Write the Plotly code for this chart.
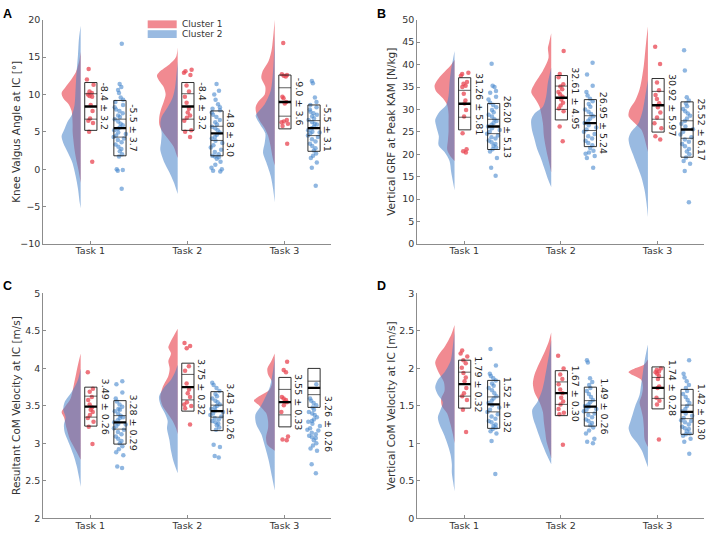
import plotly.graph_objects as go
from plotly.subplots import make_subplots

TASKS = ["Task 1", "Task 2", "Task 3"]
CLUSTERS = ["Cluster 1", "Cluster 2"]

# ---------------- A: knee valgus angle ----------------
A_TITLE = "Knee Valgus Angle at IC [°]"
A_MEAN_1 = [8.4, 8.4, 9.0]
A_SD_1 = [3.2, 3.2, 3.6]
A_CI_1 = [1.7, 1.7, 1.9]
A_MEAN_2 = [5.5, 4.8, 5.5]
A_SD_2 = [3.7, 3.0, 3.1]
A_CI_2 = [1.2, 0.95, 1.0]
A_LABEL_1 = ["-8.4 ± 3.2", "-8.4 ± 3.2", "-9.0 ± 3.6"]
A_LABEL_2 = ["-5.5 ± 3.7", "-4.8 ± 3.0", "-5.5 ± 3.1"]
A_DOTS_1 = [
    [13.4, 12.0, 11.3, 10.4, 10.2, 10.0, 9.8, 9.7, 8.6, 7.8, 6.8, 6.5, 6.2, 5.0, 1.0],
    [13.3, 13.1, 12.9, 12.6, 11.2, 10.4, 9.7, 8.9, 8.1, 7.6, 7.2, 6.9, 6.5, 5.2, 5.0, 4.3],
    [16.9, 12.7, 12.6, 12.5, 12.4, 9.7, 9.5, 9.0, 8.8, 6.6, 6.4, 6.3, 6.1, 5.8, 3.4],
]
A_DOTS_2 = [
    [16.8, 11.4, 11.0, 10.6, 10.2, 9.6, 9.3, 9.0, 8.6, 8.3, 8.0, 7.8, 7.5, 7.2, 7.0, 6.7, 6.4, 6.1, 5.9, 5.6,
     5.4, 5.2, 4.9, 4.7, 4.5, 4.3, 4.1, 3.9, 3.6, 3.3, 3.0, 2.7, 2.4, 2.0, 1.7, 0.0, -0.2, -0.1, -2.6],
    [11.4, 10.5, 10.0, 9.3, 8.7, 8.3, 8.1, 7.9, 7.6, 7.3, 7.0, 6.6, 6.3, 6.0, 5.7, 5.5, 5.2, 4.9, 4.6, 4.3,
     4.1, 3.8, 3.5, 3.2, 2.9, 2.6, 2.3, 2.0, 1.8, 1.6, 1.4, 1.0, 0.6, 0.2, 0.0, -0.2, -0.3, 1.7],
    [11.8, 11.5, 9.6, 9.0, 8.6, 8.3, 8.0, 7.7, 7.5, 7.3, 7.1, 6.8, 6.6, 6.3, 6.0, 5.7, 5.5, 5.2, 5.0, 4.8,
     4.5, 4.3, 4.0, 3.7, 3.4, 3.1, 2.8, 2.5, 2.1, 1.8, 1.5, 0.9, 0.2, -2.2, 4.9, 6.1],
]
A_DENS_Y_1 = [
    [15.7, 14.5, 13, 12, 11, 10.2, 9.5, 8.7, 7.8, 7, 6, 5, 4, 2.5, 1, 0, -1, -1.8],
    [16.3, 15, 14, 13, 12.5, 11.8, 11, 10, 9, 8, 7, 6, 5, 4, 3, 2, 1.5],
    [20, 18, 16, 14.5, 13, 12.2, 11, 10, 9, 8.3, 7.5, 6.5, 5.5, 4.5, 3, 1.5, 0.5],
]
A_DENS_W_1 = [
    [0, 4, 14, 28, 45, 57, 52, 36, 27, 25, 24, 24, 22, 18, 12, 7, 3, 0],
    [0, 5, 25, 55, 62, 55, 42, 36, 42, 50, 55, 55, 45, 28, 12, 4, 0],
    [0, 4, 9, 18, 37, 40, 28, 30, 50, 57, 55, 45, 30, 20, 12, 6, 0],
]
A_DENS_Y_2 = [
    [19.2, 17.5, 15.3, 13.1, 10.9, 8.7, 7.4, 6.3, 5.2, 4.4, 3.5, 2.2, 0.9, -0.9, -2.6, -4.4, -5.2],
    [14.4, 12.5, 10.9, 9.6, 8.3, 7, 6.1, 4.8, 3.5, 2.6, 0.9, -0.4, -1.7, -3.3],
    [18.3, 15.5, 13.1, 10.5, 8.7, 7.9, 7.2, 6.1, 4.8, 3.5, 2.2, 0.9, -0.9, -2.6, -4.4],
]
A_DENS_W_2 = [
    [0, 5, 8, 12, 15, 18, 25, 40, 50, 57, 52, 38, 25, 15, 8, 3, 0],
    [0, 4, 8, 15, 30, 48, 52, 48, 50, 52, 40, 25, 12, 0],
    [0, 2, 5, 12, 30, 45, 57, 45, 28, 30, 35, 25, 12, 5, 0],
]

# ---------------- B: vertical GRF ----------------
B_TITLE = "Vertical GRF at Peak KAM [N/kg]"
B_MEAN_1 = [31.26, 32.61, 30.92]
B_SD_1 = [5.81, 4.95, 5.97]
B_CI_1 = [3.0, 2.6, 3.1]
B_MEAN_2 = [26.20, 26.95, 25.52]
B_SD_2 = [5.13, 5.24, 6.17]
B_CI_2 = [1.6, 1.65, 1.95]
B_LABEL_1 = ["31.26 ± 5.81", "32.61 ± 4.95", "30.92 ± 5.97"]
B_LABEL_2 = ["26.20 ± 5.13", "26.95 ± 5.24", "25.52 ± 6.17"]
B_DOTS_1 = [
    [38.2, 37.9, 37.5, 36.1, 35.7, 35.3, 35.0, 33.5, 32.0, 31.3, 29.9, 28.4, 24.7, 21.1, 20.7, 20.4],
    [43.0, 37.9, 37.2, 35.6, 35.1, 34.5, 33.9, 33.4, 32.8, 32.2, 31.5, 30.9, 30.2, 29.6, 26.2, 22.9],
    [44.0, 40.1, 36.0, 34.3, 33.2, 32.3, 31.4, 30.5, 29.3, 28.2, 26.9, 25.8, 24.0, 23.3],
]
B_DOTS_2 = [
    [40.2, 35.3, 35.0, 34.1, 33.7, 32.8, 32.2, 31.5, 31.0, 30.5, 29.9, 29.4, 28.8, 28.4, 27.8, 27.4, 27.0,
     26.6, 26.2, 25.8, 25.4, 25.0, 24.6, 24.2, 23.8, 23.5, 23.1, 22.7, 22.3, 21.9, 21.5, 21.1, 20.6, 19.2,
     17.0, 15.2],
    [40.4, 37.8, 35.3, 33.9, 33.1, 32.4, 31.8, 31.2, 30.6, 30.0, 29.5, 29.0, 28.5, 28.0, 27.5, 27.0, 26.5,
     26.0, 25.5, 25.0, 24.5, 24.0, 23.5, 23.0, 22.5, 22.0, 21.4, 20.8, 20.4, 20.1, 19.6, 19.2, 17.0],
    [43.2, 38.7, 32.7, 32.0, 31.3, 30.7, 30.1, 29.6, 29.1, 28.6, 28.0, 27.4, 26.8, 26.2, 25.6, 25.0, 24.4,
     23.8, 23.3, 22.8, 22.3, 21.8, 21.2, 20.6, 20.0, 19.3, 18.5, 17.9, 16.3, 9.3],
]
B_DENS_Y_1 = [
    [41, 39.5, 38, 36.5, 35.3, 34, 32.5, 31, 29, 27, 25, 23, 21, 19.5, 18.5],
    [47, 45, 43.7, 41.5, 38.6, 35.7, 33.9, 32, 30.6, 27, 24, 21, 18, 16],
    [48.5, 46, 43, 40, 37, 34.5, 32, 30, 28.5, 27, 25.5, 24, 22, 20.5],
]
B_DENS_W_1 = [
    [0, 15, 35, 52, 60, 55, 35, 22, 18, 18, 18, 20, 22, 12, 0],
    [0, 6, 10, 8, 25, 50, 60, 45, 35, 25, 22, 15, 6, 0],
    [0, 4, 8, 12, 18, 25, 38, 55, 58, 40, 20, 12, 5, 0],
]
B_DENS_Y_2 = [
    [43, 41, 39, 36, 33, 31, 29.5, 27.7, 26, 24, 22, 20.5, 18.5, 16, 14, 12],
    [39.3, 36, 33, 30.6, 29.1, 27.7, 25.5, 23.3, 21.1, 18.9, 16.7, 14.5, 12.7],
    [36.5, 33, 30, 27, 25, 23.5, 22, 20, 18, 15, 12, 9, 6],
]
B_DENS_W_2 = [
    [0, 5, 10, 15, 18, 25, 45, 58, 54, 47, 48, 30, 15, 10, 5, 0],
    [0, 10, 15, 25, 50, 60, 58, 50, 42, 30, 20, 10, 0],
    [0, 8, 15, 28, 50, 58, 55, 45, 35, 20, 10, 4, 0],
]

# ---------------- C: resultant CoM velocity ----------------
C_TITLE = "Resultant CoM Velocity at IC [m/s]"
C_MEAN_1 = [3.49, 3.75, 3.55]
C_SD_1 = [0.26, 0.32, 0.33]
C_CI_1 = [0.14, 0.17, 0.17]
C_MEAN_2 = [3.28, 3.43, 3.26]
C_SD_2 = [0.29, 0.26, 0.26]
C_CI_2 = [0.09, 0.08, 0.09]
C_BOX_MEAN_2 = [3.28, 3.43, 3.74]  # the third box is drawn higher than its label says
C_LABEL_1 = ["3.49 ± 0.26", "3.75 ± 0.32", "3.55 ± 0.33"]
C_LABEL_2 = ["3.28 ± 0.29", "3.43 ± 0.26", "3.26 ± 0.26"]
C_DOTS_1 = [
    [3.95, 3.73, 3.69, 3.62, 3.58, 3.52, 3.48, 3.45, 3.42, 3.38, 3.34, 3.29, 3.22, 2.99],
    [4.34, 4.30, 4.27, 4.03, 3.97, 3.80, 3.72, 3.67, 3.62, 3.55, 3.52, 3.50, 3.47, 3.25],
    [4.09, 3.98, 3.95, 3.62, 3.60, 3.58, 3.56, 3.55, 3.51, 3.42, 3.09, 3.05, 3.04],
]
C_DOTS_2 = [
    [3.83, 3.79, 3.68, 3.60, 3.56, 3.52, 3.49, 3.46, 3.43, 3.40, 3.37, 3.34, 3.31, 3.28, 3.26, 3.23, 3.20,
     3.18, 3.15, 3.12, 3.09, 3.06, 3.03, 3.00, 2.96, 2.92, 2.88, 2.84, 2.69, 2.67, 3.25, 3.35, 3.45],
    [3.81, 3.78, 3.74, 3.70, 3.66, 3.63, 3.60, 3.57, 3.55, 3.52, 3.50, 3.48, 3.46, 3.44, 3.42, 3.40, 3.38,
     3.36, 3.34, 3.32, 3.30, 3.28, 3.26, 3.24, 3.21, 3.18, 2.98, 2.95, 2.83, 2.81],
    [3.79, 3.60, 3.57, 3.54, 3.51, 3.48, 3.45, 3.42, 3.40, 3.38, 3.35, 3.32, 3.29, 3.26, 3.23, 3.20, 3.17,
     3.14, 3.12, 3.10, 3.07, 3.04, 3.00, 2.97, 2.93, 2.90, 2.72, 2.60, 3.30, 3.18, 3.08],
]
C_DENS_Y_1 = [
    [4.2, 4.05, 3.9, 3.75, 3.6, 3.5, 3.42, 3.35, 3.2, 3.05, 2.95, 2.85, 2.78],
    [4.53, 4.45, 4.35, 4.28, 4.2, 4.1, 4.0, 3.9, 3.75, 3.62, 3.5, 3.4, 3.3, 3.2, 3.12],
    [4.2, 4.1, 4.0, 3.92, 3.82, 3.72, 3.62, 3.57, 3.5, 3.4, 3.3, 3.2, 3.08, 2.98, 2.9],
]
C_DENS_W_1 = [
    [0, 8, 15, 22, 30, 45, 57, 50, 42, 32, 20, 8, 0],
    [0, 10, 22, 28, 20, 28, 24, 28, 45, 52, 45, 30, 15, 5, 0],
    [0, 10, 22, 20, 8, 15, 50, 62, 45, 25, 20, 20, 26, 22, 0],
]
C_DENS_Y_2 = [
    [4.0, 3.85, 3.7, 3.55, 3.45, 3.35, 3.25, 3.15, 3.0, 2.85, 2.7, 2.55, 2.42],
    [4.05, 3.95, 3.85, 3.75, 3.62, 3.5, 3.4, 3.3, 3.2, 3.05, 2.9, 2.75, 2.6],
    [4.16, 4.0, 3.75, 3.51, 3.38, 3.25, 3.12, 2.94, 2.77, 2.55, 2.37],
]
C_DENS_W_2 = [
    [0, 8, 25, 48, 52, 45, 50, 48, 35, 22, 12, 5, 0],
    [0, 8, 20, 40, 56, 50, 38, 30, 32, 25, 20, 12, 0],
    [0, 4, 15, 40, 58, 55, 40, 28, 18, 8, 0],
]

# ---------------- D: vertical CoM velocity ----------------
D_TITLE = "Vertical CoM Velocity at IC [m/s]"
D_MEAN_1 = [1.79, 1.67, 1.74]
D_SD_1 = [0.32, 0.30, 0.28]
D_CI_1 = [0.16, 0.15, 0.14]
D_MEAN_2 = [1.52, 1.49, 1.42]
D_SD_2 = [0.32, 0.26, 0.30]
D_CI_2 = [0.10, 0.08, 0.09]
D_LABEL_1 = ["1.79 ± 0.32", "1.67 ± 0.30", "1.74 ± 0.28"]
D_LABEL_2 = ["1.52 ± 0.32", "1.49 ± 0.26", "1.42 ± 0.30"]
D_DOTS_1 = [
    [2.24, 2.20, 2.16, 2.11, 2.07, 2.01, 1.94, 1.88, 1.83, 1.74, 1.67, 1.63, 1.58, 1.45, 1.15],
    [2.17, 2.00, 1.92, 1.86, 1.79, 1.72, 1.67, 1.61, 1.56, 1.52, 1.46, 1.41, 1.39, 0.98],
    [2.00, 1.98, 1.96, 1.95, 1.93, 1.90, 1.86, 1.76, 1.74, 1.61, 1.57, 1.52, 1.05],
]
D_DOTS_2 = [
    [2.26, 2.04, 1.93, 1.90, 1.87, 1.84, 1.80, 1.77, 1.74, 1.71, 1.67, 1.63, 1.60, 1.57, 1.54, 1.51, 1.48,
     1.45, 1.42, 1.39, 1.36, 1.33, 1.30, 1.28, 1.25, 1.23, 1.21, 1.19, 1.16, 1.13, 1.03, 0.59],
    [2.11, 2.08, 1.87, 1.82, 1.78, 1.74, 1.70, 1.66, 1.62, 1.58, 1.55, 1.52, 1.49, 1.46, 1.43, 1.40, 1.38,
     1.35, 1.32, 1.30, 1.27, 1.24, 1.21, 1.17, 1.13, 1.06, 1.02, 1.00, 1.45, 1.50],
    [2.11, 1.93, 1.88, 1.83, 1.78, 1.74, 1.70, 1.66, 1.62, 1.58, 1.54, 1.50, 1.46, 1.43, 1.40, 1.37, 1.34,
     1.31, 1.28, 1.25, 1.22, 1.19, 1.16, 1.13, 1.10, 1.06, 1.02, 0.86, 1.20, 1.30, 1.12],
]
D_DENS_Y_1 = [
    [2.58, 2.45, 2.3, 2.18, 2.08, 1.95, 1.82, 1.7, 1.6, 1.5, 1.4, 1.25, 1.12, 1.0],
    [2.48, 2.35, 2.2, 2.05, 1.92, 1.8, 1.68, 1.55, 1.42, 1.28, 1.15, 1.02, 0.9, 0.8],
    [2.12, 2.05, 2.0, 1.95, 1.9, 1.85, 1.75, 1.65, 1.55, 1.45, 1.35, 1.2, 1.05, 0.95],
]
D_DENS_W_1 = [
    [0, 10, 28, 48, 58, 48, 32, 30, 40, 38, 22, 12, 5, 0],
    [0, 8, 22, 38, 50, 55, 50, 35, 25, 22, 18, 14, 6, 0],
    [0, 12, 40, 58, 40, 20, 15, 18, 25, 20, 15, 12, 10, 0],
]
D_DENS_Y_2 = [
    [2.5, 2.3, 2.1, 1.95, 1.85, 1.75, 1.65, 1.55, 1.45, 1.35, 1.25, 1.12, 1.0, 0.85, 0.72, 0.6, 0.48, 0.36],
    [2.38, 2.2, 2.05, 1.85, 1.7, 1.55, 1.45, 1.35, 1.25, 1.12, 1.0, 0.85, 0.72],
    [2.32, 2.15, 1.95, 1.8, 1.65, 1.5, 1.4, 1.3, 1.2, 1.1, 1.0, 0.9, 0.78, 0.68],
]
D_DENS_W_2 = [
    [0, 5, 12, 30, 50, 58, 50, 35, 42, 50, 45, 32, 22, 12, 8, 8, 4, 0],
    [0, 6, 12, 20, 28, 42, 57, 55, 48, 38, 28, 14, 0],
    [0, 8, 15, 20, 25, 38, 45, 52, 58, 50, 32, 18, 8, 0],
]

PANELS = [
    dict(letter="A", row=1, col=1, title=A_TITLE, yrange=[-10, 20], dtick=5,
         mean=[A_MEAN_1, A_MEAN_2], sd=[A_SD_1, A_SD_2], ci=[A_CI_1, A_CI_2],
         box_mean=[A_MEAN_1, A_MEAN_2], label=[A_LABEL_1, A_LABEL_2], dots=[A_DOTS_1, A_DOTS_2],
         dens_y=[A_DENS_Y_1, A_DENS_Y_2], dens_w=[A_DENS_W_1, A_DENS_W_2]),
    dict(letter="B", row=1, col=2, title=B_TITLE, yrange=[0, 50], dtick=5,
         mean=[B_MEAN_1, B_MEAN_2], sd=[B_SD_1, B_SD_2], ci=[B_CI_1, B_CI_2],
         box_mean=[B_MEAN_1, B_MEAN_2], label=[B_LABEL_1, B_LABEL_2], dots=[B_DOTS_1, B_DOTS_2],
         dens_y=[B_DENS_Y_1, B_DENS_Y_2], dens_w=[B_DENS_W_1, B_DENS_W_2]),
    dict(letter="C", row=2, col=1, title=C_TITLE, yrange=[2, 5], dtick=0.5,
         mean=[C_MEAN_1, C_MEAN_2], sd=[C_SD_1, C_SD_2], ci=[C_CI_1, C_CI_2],
         box_mean=[C_MEAN_1, C_BOX_MEAN_2], label=[C_LABEL_1, C_LABEL_2], dots=[C_DOTS_1, C_DOTS_2],
         dens_y=[C_DENS_Y_1, C_DENS_Y_2], dens_w=[C_DENS_W_1, C_DENS_W_2]),
    dict(letter="D", row=2, col=2, title=D_TITLE, yrange=[0, 3], dtick=0.5,
         mean=[D_MEAN_1, D_MEAN_2], sd=[D_SD_1, D_SD_2], ci=[D_CI_1, D_CI_2],
         box_mean=[D_MEAN_1, D_MEAN_2], label=[D_LABEL_1, D_LABEL_2], dots=[D_DOTS_1, D_DOTS_2],
         dens_y=[D_DENS_Y_1, D_DENS_Y_2], dens_w=[D_DENS_W_1, D_DENS_W_2]),
]

# styling
W, H = 708, 537
FONT = "DejaVu Sans"
TEXT = "#333333"
AXIS = "#8c8c8c"
VIOLIN_FILL = ["rgba(232,60,72,0.6)", "rgba(70,130,200,0.55)"]
DOT_COLOR = ["rgba(232,70,82,0.75)", "rgba(70,135,205,0.6)"]
DENS_SCALE = 290.0       # density widths were read in 1/290 task units
VIOLIN_OFFSET = -0.10
BOX_OFFSET = [0.005, 0.305]
BOX_HALF = 0.063
DOT_SPREAD = [0.09, 0.14]
LABEL_OFFSET = [0.074, 0.372]

# axis domains (pixels -> paper)
X_DOM = {1: [43.3 / W, 331 / W], 2: [417.3 / W, 704 / W]}
Y_DOM = {1: [1 - 243 / H, 1 - 14 / H], 2: [1 - 523 / H, 1 - 293.5 / H]}
TITLE_X = {1: 16 / W, 2: 391 / W}
LETTER_X = {1: 7.5 / W, 2: 381.5 / W}
LETTER_Y = {1: 1 - 8.5 / H, 2: 1 - 286 / H}

fig = make_subplots(rows=2, cols=2)

for p in PANELS:
    r, c = p["row"], p["col"]
    for k in range(len(TASKS)):
        pos = k + 1
        # half-violins (cluster 1 first so cluster 2 sits on top)
        for g in range(2):
            base = pos + VIOLIN_OFFSET
            ys = p["dens_y"][g][k]
            ws = p["dens_w"][g][k]
            fig.add_trace(go.Scatter(
                x=[base - w / DENS_SCALE for w in ws], y=ys,
                mode="lines", fill="toself", fillcolor=VIOLIN_FILL[g],
                line=dict(width=0, shape="spline", smoothing=0.8),
                hoverinfo="skip", showlegend=False,
            ), row=r, col=c)
        for g in range(2):
            xc = pos + BOX_OFFSET[g]
            m = p["box_mean"][g][k]
            s = p["sd"][g][k]
            ci = p["ci"][g][k]
            x0, x1 = xc - BOX_HALF, xc + BOX_HALF
            # box = mean +/- sd
            fig.add_trace(go.Scatter(
                x=[x0, x1, x1, x0, x0], y=[m - s, m - s, m + s, m + s, m - s],
                mode="lines", line=dict(color="#1a1a1a", width=0.9),
                hoverinfo="skip", showlegend=False,
            ), row=r, col=c)
            # confidence interval lines
            fig.add_trace(go.Scatter(
                x=[x0, x1, None, x0, x1], y=[m - ci, m - ci, None, m + ci, m + ci],
                mode="lines", line=dict(color="#1a1a1a", width=0.7),
                hoverinfo="skip", showlegend=False,
            ), row=r, col=c)
            # dots with library jitter
            fig.add_trace(go.Box(
                y=p["dots"][g][k], x0=xc, width=DOT_SPREAD[g],
                boxpoints="all", jitter=1, pointpos=0,
                fillcolor="rgba(0,0,0,0)", line=dict(color="rgba(0,0,0,0)", width=0),
                marker=dict(color=DOT_COLOR[g], size=4.5),
                hoverinfo="y", showlegend=False,
            ), row=r, col=c)
            # mean line
            fig.add_trace(go.Scatter(
                x=[x0, x1], y=[m, m], mode="lines",
                line=dict(color="black", width=2.4),
                hoverinfo="skip", showlegend=False,
            ), row=r, col=c)
            fig.add_annotation(
                x=pos + LABEL_OFFSET[g], y=p["mean"][g][k], text=p["label"][g][k],
                textangle=90, xanchor="left", yanchor="middle", showarrow=False,
                font=dict(family=FONT, size=9.5, color="#262626"),
                row=r, col=c,
            )

    fig.update_xaxes(
        range=[0.515, 3.48], tickvals=[1, 2, 3], ticktext=TASKS,
        domain=X_DOM[c], row=r, col=c,
    )
    fig.update_yaxes(
        range=p["yrange"], dtick=p["dtick"], domain=Y_DOM[r], row=r, col=c,
    )
    ydom = Y_DOM[r]
    fig.add_annotation(
        xref="paper", yref="paper", x=TITLE_X[c], y=(ydom[0] + ydom[1]) / 2,
        text=p["title"], textangle=-90, showarrow=False,
        xanchor="center", yanchor="middle",
        font=dict(family=FONT, size=10.5, color=TEXT),
    )
    fig.add_annotation(
        xref="paper", yref="paper", x=LETTER_X[c], y=LETTER_Y[r],
        text="<b>%s</b>" % p["letter"], showarrow=False,
        xanchor="center", yanchor="middle",
        font=dict(family="Liberation Sans", size=12.5, color="black"),
    )

fig.update_xaxes(
    showgrid=False, zeroline=False, showline=True, linecolor=AXIS, linewidth=1,
    ticks="inside", ticklen=3, tickcolor=AXIS, ticklabelstandoff=-2,
    tickfont=dict(family=FONT, size=9.5, color=TEXT),
)
fig.update_yaxes(
    showgrid=False, zeroline=False, showline=True, linecolor=AXIS, linewidth=1,
    ticks="inside", ticklen=3, tickcolor=AXIS,
    tickfont=dict(family=FONT, size=9.5, color=TEXT),
)

# legend drawn as patches in panel A
LEG_Y = [18.7, 28.7]
for g in range(2):
    fig.add_shape(
        type="rect", xref="paper", yref="paper",
        x0=147.7 / W, x1=176.7 / W, y0=1 - (LEG_Y[g] + 4) / H, y1=1 - (LEG_Y[g] - 4) / H,
        fillcolor=VIOLIN_FILL[g], line=dict(width=0),
    )
    fig.add_annotation(
        xref="paper", yref="paper", x=179.5 / W, y=1 - LEG_Y[g] / H,
        text=CLUSTERS[g], showarrow=False, xanchor="left", yanchor="middle",
        font=dict(family=FONT, size=9, color=TEXT),
    )

fig.update_layout(
    width=W, height=H,
    margin=dict(l=0, r=0, t=0, b=0),
    paper_bgcolor="white", plot_bgcolor="white",
    boxmode="overlay", showlegend=False,
    font=dict(family=FONT, size=9.5, color=TEXT),
)

# drop the browser's default body margin so the figure fills the window exactly
fig.write_html(
    "out.html",
    config={"displayModeBar": False},
    post_script="document.body.style.margin = '0px';",
)
